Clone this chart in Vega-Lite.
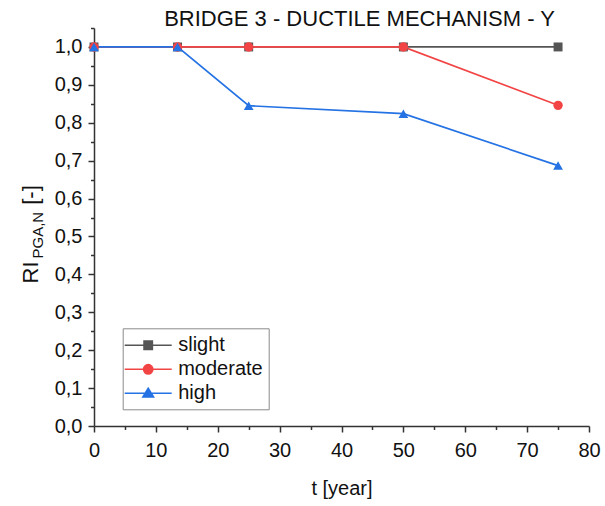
{
  "$schema": "https://vega.github.io/schema/vega-lite/v6.json",
  "width": 495,
  "height": 398,
  "autosize": "none",
  "padding": {"left": 94, "top": 28, "right": 16, "bottom": 80},
  "background": "white",
  "config": {
    "font": "Liberation Sans",
    "view": {"stroke": null},
    "axis": {
      "grid": false,
      "labelFont": "Liberation Sans",
      "titleFont": "Liberation Sans",
      "labelColor": "#111111",
      "titleColor": "#111111",
      "domainColor": "#333333",
      "tickColor": "#333333",
      "domainWidth": 1.5,
      "tickWidth": 1.5,
      "titleFontWeight": "normal"
    }
  },
  "title": {
    "text": "BRIDGE 3 - DUCTILE MECHANISM - Y",
    "font": "Liberation Sans",
    "fontSize": 22,
    "fontWeight": "normal",
    "color": "#111111",
    "anchor": "middle",
    "frame": "group",
    "dx": 18,
    "dy": 29,
    "baseline": "alphabetic",
    "offset": -1
  },
  "data": {
    "values": [
      {"level": "slight", "t": 0, "ri": 1.0},
      {"level": "slight", "t": 13.5, "ri": 1.0},
      {"level": "slight", "t": 25, "ri": 1.0},
      {"level": "slight", "t": 50, "ri": 1.0},
      {"level": "slight", "t": 75, "ri": 1.0},
      {"level": "moderate", "t": 0, "ri": 1.0},
      {"level": "moderate", "t": 13.5, "ri": 1.0},
      {"level": "moderate", "t": 25, "ri": 1.0},
      {"level": "moderate", "t": 50, "ri": 1.0},
      {"level": "moderate", "t": 75, "ri": 0.846},
      {"level": "high", "t": 0, "ri": 1.0},
      {"level": "high", "t": 13.5, "ri": 1.0},
      {"level": "high", "t": 25, "ri": 0.845},
      {"level": "high", "t": 50, "ri": 0.824},
      {"level": "high", "t": 75, "ri": 0.687}
    ]
  },
  "encoding": {
    "x": {
      "field": "t",
      "type": "quantitative",
      "scale": {"domain": [0, 80], "nice": false, "zero": false},
      "axis": {
        "values": [0, 5, 10, 15, 20, 25, 30, 35, 40, 45, 50, 55, 60, 65, 70, 75, 80],
        "labelExpr": "datum.value % 10 === 0 ? datum.label : ''",
        "tickSize": {"condition": {"test": "datum.value % 10 !== 0", "value": 3.5}, "value": 6},
        "labelFontSize": 20,
        "labelPadding": 8,
        "labelOverlap": false,
        "labelFlush": false,
        "title": "t [year]",
        "titleFontSize": 20,
        "titleBaseline": "alphabetic",
        "titleY": 68
      }
    }
  },
  "layer": [
    {
      "mark": {"type": "line", "strokeWidth": 1.7},
      "encoding": {
        "y": {
          "field": "ri",
          "type": "quantitative",
          "scale": {"domain": [0, 1.05], "nice": false},
          "axis": {
            "orient": "left",
            "values": [0, 0.05, 0.1, 0.15, 0.2, 0.25, 0.3, 0.35, 0.4, 0.45, 0.5, 0.55, 0.6, 0.65, 0.7, 0.75, 0.8, 0.85, 0.9, 0.95, 1, 1.05],
            "labelExpr": "round(datum.value * 20) % 2 === 1 || datum.value > 1.01 ? '' : replace(format(datum.value, '.1f'), '.', ',')",
            "tickSize": {"condition": {"test": "round(datum.value * 20) % 2 === 1", "value": 3.5}, "value": 6},
            "labelFontSize": 20,
            "labelPadding": 6,
            "labelOverlap": false,
            "labelFlush": false,
            "title": "RI",
            "titleFontSize": 22,
            "titleAngle": -90,
            "titleAlign": "left",
            "titleBaseline": "alphabetic",
            "titleX": -57,
            "titleY": 255
          }
        },
        "color": {
          "field": "level",
          "type": "nominal",
          "scale": {"domain": ["slight", "moderate", "high"], "range": ["#555555", "#f24444", "#2472e4"]},
          "legend": null
        }
      }
    },
    {
      "mark": {"type": "point", "filled": true, "opacity": 1},
      "encoding": {
        "y": {
          "field": "ri",
          "type": "quantitative",
          "axis": {
            "orient": "left",
            "domain": false,
            "ticks": false,
            "labels": false,
            "title": "PGA,N",
            "titleFontSize": 15,
            "titleAngle": -90,
            "titleAlign": "left",
            "titleBaseline": "alphabetic",
            "titleX": -51.6,
            "titleY": 230
          }
        },
        "color": {
          "field": "level",
          "type": "nominal",
          "scale": {"domain": ["slight", "moderate", "high"], "range": ["#555555", "#f24444", "#2472e4"]},
          "legend": null
        },
        "shape": {
          "field": "level",
          "type": "nominal",
          "scale": {"domain": ["slight", "moderate", "high"], "range": ["square", "circle", "triangle-up"]},
          "legend": null
        },
        "size": {
          "field": "level",
          "type": "nominal",
          "scale": {"domain": ["slight", "moderate", "high"], "range": [80, 95, 140]},
          "legend": null
        }
      }
    },
    {
      "transform": [{"filter": "datum.t < 0"}],
      "mark": {"type": "point", "filled": true, "opacity": 1, "strokeWidth": 1.5},
      "encoding": {
        "y": {
          "field": "ri",
          "type": "quantitative",
          "axis": {
            "orient": "left",
            "domain": false,
            "ticks": false,
            "labels": false,
            "title": "[-]",
            "titleFontSize": 22,
            "titleAngle": -90,
            "titleAlign": "center",
            "titleBaseline": "alphabetic",
            "titleX": -57,
            "titleY": 166.5
          }
        },
        "fill": {
          "field": "level",
          "type": "nominal",
          "scale": {"domain": ["slight", "moderate", "high"], "range": ["#555555", "#f24444", "#2472e4"]},
          "legend": {
            "title": null,
            "orient": "none",
            "legendX": 28.7,
            "legendY": 300.3,
            "padding": 6,
            "fillColor": "white",
            "strokeColor": "#8a8a8a",
            "symbolSize": 400,
            "symbolStrokeWidth": 1.5,
            "symbolOpacity": 1,
            "symbolOffset": 8.5,
            "labelOffset": 19,
            "labelFont": "Liberation Sans",
            "labelFontSize": 20,
            "labelColor": "#111111",
            "labelLimit": 300,
            "rowPadding": 3
          }
        },
        "stroke": {
          "field": "level",
          "type": "nominal",
          "scale": {"domain": ["slight", "moderate", "high"], "range": ["#555555", "#f24444", "#2472e4"]},
          "legend": {
            "title": null,
            "orient": "none",
            "legendX": 28.7,
            "legendY": 300.3,
            "padding": 6,
            "fillColor": "white",
            "strokeColor": "#8a8a8a",
            "symbolSize": 400,
            "symbolStrokeWidth": 1.5,
            "symbolOpacity": 1,
            "symbolOffset": 8.5,
            "labelOffset": 19,
            "labelFont": "Liberation Sans",
            "labelFontSize": 20,
            "labelColor": "#111111",
            "labelLimit": 300,
            "rowPadding": 3
          }
        },
        "shape": {
          "field": "level",
          "type": "nominal",
          "scale": {
            "domain": ["slight", "moderate", "high"],
            "range": [
              "M-2.35,0H2.35M-0.42,-0.42H0.42V0.42H-0.42Z",
              "M-2.35,0H2.35M-0.47,0A0.47,0.47,0,1,1,0.47,0A0.47,0.47,0,1,1,-0.47,0Z",
              "M-2.35,0H2.35M0,-0.52L0.54,0.36H-0.54Z"
            ]
          },
          "legend": {
            "title": null,
            "orient": "none",
            "legendX": 28.7,
            "legendY": 300.3,
            "padding": 6,
            "fillColor": "white",
            "strokeColor": "#8a8a8a",
            "symbolSize": 400,
            "symbolStrokeWidth": 1.5,
            "symbolOpacity": 1,
            "symbolOffset": 8.5,
            "labelOffset": 19,
            "labelFont": "Liberation Sans",
            "labelFontSize": 20,
            "labelColor": "#111111",
            "labelLimit": 300,
            "rowPadding": 3
          }
        }
      }
    }
  ],
  "resolve": {
    "scale": {"shape": "independent", "fill": "independent", "stroke": "independent"},
    "axis": {"y": "independent"}
  }
}
